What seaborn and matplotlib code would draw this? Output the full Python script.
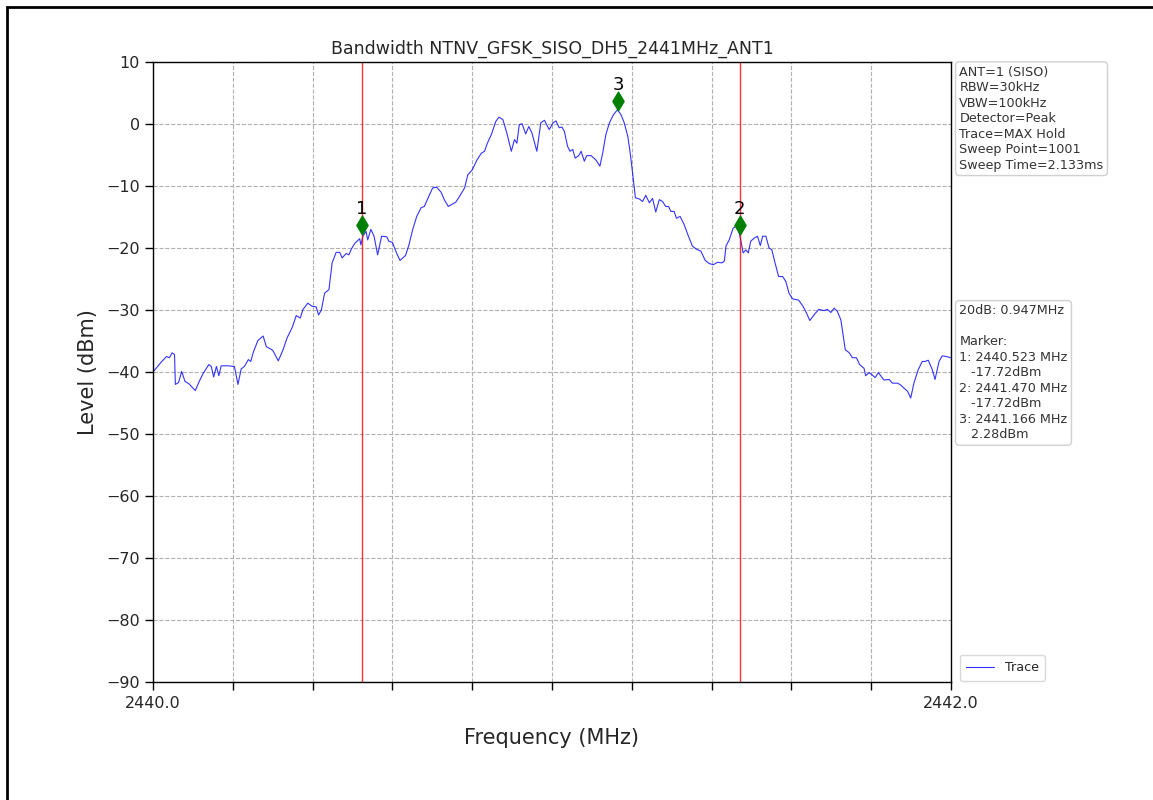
import numpy as np
import pandas as pd
import matplotlib
matplotlib.use("Agg")
import matplotlib.pyplot as plt
from matplotlib.patches import Rectangle
import seaborn as sns

# ---- data ----
freq_mhz = [
    2440.000, 2440.022, 2440.034, 2440.041, 2440.048, 2440.054, 2440.056, 2440.064, 2440.072, 2440.080,
    2440.090, 2440.106, 2440.116, 2440.126, 2440.140, 2440.146, 2440.152, 2440.159, 2440.165, 2440.171,
    2440.187, 2440.204, 2440.213, 2440.221, 2440.229, 2440.239, 2440.245, 2440.252, 2440.263, 2440.276,
    2440.284, 2440.300, 2440.314, 2440.326, 2440.336, 2440.349, 2440.359, 2440.369, 2440.376, 2440.388,
    2440.399, 2440.409, 2440.415, 2440.422, 2440.430, 2440.441, 2440.449, 2440.459, 2440.468, 2440.474,
    2440.484, 2440.491, 2440.497, 2440.505, 2440.518, 2440.521, 2440.526, 2440.534, 2440.538, 2440.546,
    2440.554, 2440.563, 2440.573, 2440.586, 2440.591, 2440.600, 2440.611, 2440.619, 2440.633, 2440.641,
    2440.651, 2440.661, 2440.672, 2440.680, 2440.691, 2440.701, 2440.711, 2440.722, 2440.730, 2440.740,
    2440.748, 2440.759, 2440.768, 2440.781, 2440.789, 2440.800, 2440.812, 2440.823, 2440.831, 2440.838,
    2440.848, 2440.859, 2440.867, 2440.877, 2440.887, 2440.898, 2440.906, 2440.912, 2440.918, 2440.925,
    2440.934, 2440.942, 2440.950, 2440.962, 2440.972, 2440.981, 2440.993,
    2441.003, 2441.010, 2441.018, 2441.025, 2441.031, 2441.039, 2441.045, 2441.052, 2441.058, 2441.067,
    2441.073, 2441.081, 2441.087, 2441.098, 2441.110, 2441.120, 2441.127, 2441.135, 2441.144, 2441.154,
    2441.164, 2441.173, 2441.181, 2441.190, 2441.196, 2441.202, 2441.209, 2441.219, 2441.227, 2441.235,
    2441.244, 2441.252, 2441.260, 2441.269, 2441.277, 2441.285, 2441.292, 2441.298, 2441.306, 2441.312,
    2441.321, 2441.331, 2441.342, 2441.352, 2441.362, 2441.373, 2441.384, 2441.394, 2441.404, 2441.415,
    2441.426, 2441.432, 2441.436, 2441.444, 2441.454, 2441.461, 2441.467, 2441.473, 2441.479, 2441.486,
    2441.492, 2441.498, 2441.507, 2441.515, 2441.522, 2441.528, 2441.536, 2441.544, 2441.551, 2441.559,
    2441.568, 2441.578, 2441.586, 2441.594, 2441.603, 2441.618, 2441.629, 2441.638, 2441.646, 2441.659,
    2441.669, 2441.682, 2441.690, 2441.699, 2441.707, 2441.715, 2441.724, 2441.730, 2441.735, 2441.745,
    2441.753, 2441.763, 2441.771, 2441.782, 2441.786, 2441.795, 2441.801, 2441.810, 2441.818, 2441.832,
    2441.845, 2441.853, 2441.866, 2441.874, 2441.882, 2441.891, 2441.899, 2441.907, 2441.918, 2441.928,
    2441.935, 2441.943, 2441.953, 2441.960, 2441.970, 2441.978, 2441.988, 2442.000,
]
level_dbm = [
    -40.0, -38.3, -37.5, -37.7, -36.9, -37.2, -42.0, -41.7, -39.9, -41.5,
    -41.9, -43.0, -41.5, -40.2, -38.8, -39.1, -40.8, -39.1, -40.6, -39.0,
    -39.0, -39.1, -42.0, -39.5, -39.1, -38.0, -38.3, -36.7, -34.9, -34.2,
    -35.9, -36.5, -38.2, -36.4, -34.5, -32.8, -30.9, -31.3, -29.9, -28.9,
    -29.4, -29.5, -30.8, -30.0, -27.3, -26.7, -22.4, -20.7, -20.7, -21.6,
    -20.9, -21.1, -20.2, -19.3, -18.5, -19.5, -18.1, -17.3, -18.7, -17.0,
    -18.1, -21.1, -18.1, -18.2, -18.9, -19.1, -20.9, -22.0, -21.2, -19.6,
    -17.0, -14.9, -13.5, -13.3, -11.7, -10.3, -10.2, -11.0, -12.2, -13.3,
    -13.0, -12.6, -11.7, -10.3, -8.2, -7.4, -5.8, -4.7, -4.4, -3.1,
    -1.7, 0.4, 1.1, 0.7, -1.5, -4.4, -2.5, -3.1, -0.1, 0.05,
    -1.6, -0.4, -1.5, -4.4, 0.2, 0.6, -0.9,
    0.2, 0.5, -0.6, -0.5, -1.2, -3.6, -4.4, -4.1, -5.5, -5.1,
    -4.4, -6.0, -5.1, -5.1, -5.8, -6.8, -4.7, -1.7, 0.2, 1.5,
    2.3, 1.5, 0.2, -2.0, -4.7, -7.9, -11.9, -12.1, -12.5, -11.5,
    -12.7, -12.0, -14.2, -12.2, -12.5, -13.3, -13.3, -14.1, -14.1, -15.2,
    -14.9, -16.2, -18.1, -19.7, -20.2, -20.5, -22.0, -22.5, -22.7, -22.3,
    -22.4, -22.1, -19.7, -18.7, -16.8, -16.5, -17.0, -18.7, -20.8, -20.3,
    -20.8, -18.9, -18.4, -18.1, -19.6, -18.1, -18.1, -20.0, -20.3, -22.4,
    -24.6, -24.6, -25.4, -27.3, -28.2, -28.4, -29.4, -30.5, -31.7, -30.6,
    -29.9, -30.1, -29.9, -30.4, -29.7, -30.2, -31.6, -34.2, -36.4, -36.9,
    -37.7, -37.7, -38.8, -39.4, -40.6, -40.1, -40.4, -40.9, -40.1, -41.3,
    -41.2, -41.8, -41.8, -42.1, -42.6, -43.1, -44.2, -41.8, -39.6, -38.3,
    -38.3, -38.1, -39.6, -41.2, -38.3, -37.4, -37.5, -37.7,
]

marker_ids = ["1", "2", "3"]
marker_freq = [2440.523, 2441.470, 2441.166]
marker_level = [-17.72, -17.72, 2.28]

title_text = "Bandwidth NTNV_GFSK_SISO_DH5_2441MHz_ANT1"
info_text = ("ANT=1 (SISO)\nRBW=30kHz\nVBW=100kHz\nDetector=Peak\n"
             "Trace=MAX Hold\nSweep Point=1001\nSweep Time=2.133ms")
marker_text = ("20dB: 0.947MHz\n\nMarker:\n1: 2440.523 MHz\n   -17.72dBm\n"
               "2: 2441.470 MHz\n   -17.72dBm\n3: 2441.166 MHz\n   2.28dBm")
y_ticks = list(range(-90, 11, 10))
x_ticks = [2440.0 + 0.2 * i for i in range(11)]
x_ticklabels = ["2440.0"] + [""] * 9 + ["2442.0"]

# ---- plotting ----
sns.set_theme(style="ticks")
plt.rcParams["font.family"] = ["DejaVu Sans"]

fig = plt.figure(figsize=(11.53, 8.0), dpi=100)
ax = fig.add_axes([153 / 1153, 1 - 682 / 800, 798 / 1153, 620 / 800])

df = pd.DataFrame({"Frequency": freq_mhz, "Level": level_dbm})
sns.lineplot(data=df, x="Frequency", y="Level", ax=ax, color="#0000ff",
             linewidth=0.8, alpha=0.8, label="Trace")

for mf in marker_freq[:2]:
    ax.axvline(mf, color="red", linewidth=1.0, alpha=0.8)

mdf = pd.DataFrame({"f": marker_freq, "v": [v + 1.5 for v in marker_level]})
ax.scatter(mdf["f"], mdf["v"], marker="d", s=90, color="green", zorder=5)
for mid, mf, mv in zip(marker_ids, marker_freq, marker_level):
    ax.annotate(mid, (mf, mv + 1.5), xytext=(0, 5), textcoords="offset points",
                ha="center", va="bottom", fontsize=13, color="black")

ax.set_xlim(2440.0, 2442.0)
ax.set_ylim(-90, 10)
ax.set_xticks(x_ticks)
ax.set_xticklabels(x_ticklabels)
ax.set_yticks(y_ticks)
ax.tick_params(axis="both", labelsize=11.5, direction="out", length=6, width=1, color="black")
ax.tick_params(axis="x", pad=4)
ax.grid(True, linestyle="--", color="#b0b0b0", linewidth=0.8)
for s in ax.spines.values():
    s.set_color("black")
    s.set_linewidth(1.0)

ax.set_title(title_text, fontsize=12.5, pad=6)
ax.set_xlabel("Frequency (MHz)", fontsize=15, labelpad=12)
ax.set_ylabel("Level (dBm)", fontsize=15, labelpad=6)

bbox = dict(boxstyle="round,pad=0.3", facecolor="white", edgecolor="#d0d0d0", linewidth=1)
ax.text(1.0105, 0.994, info_text, transform=ax.transAxes, ha="left", va="top",
        fontsize=9.2, color="#333333", bbox=bbox, linespacing=1.25)
ax.text(1.0105, 0.609, marker_text, transform=ax.transAxes, ha="left", va="top",
        fontsize=9.2, color="#333333", bbox=bbox, linespacing=1.25)

leg = ax.legend(loc="lower left", bbox_to_anchor=(1.003, -0.008), fontsize=9.2,
                frameon=True, handlelength=2.2, borderpad=0.5)
leg.get_frame().set_edgecolor("#d0d0d0")

fig.patches.append(Rectangle((7 / 1153, -0.02), 1.05, 1 - 7 / 800 + 0.02,
                             transform=fig.transFigure, fill=False,
                             edgecolor="black", linewidth=2.0))

fig.savefig("out.png", dpi=100, facecolor="white")
